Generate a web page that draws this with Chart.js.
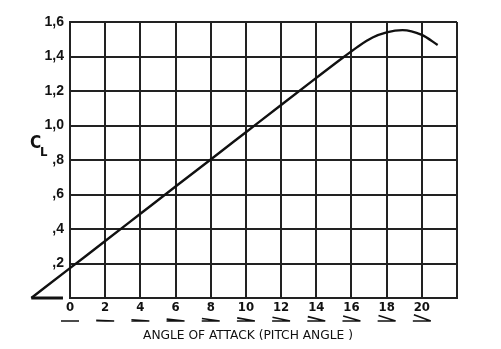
<!DOCTYPE html>
<html><head><meta charset="utf-8">
<script src="https://cdn.jsdelivr.net/npm/chart.js@4"></script>
<style>html,body{margin:0;padding:0;background:#fff}#wrap{width:501px;height:349px}</style>
</head><body><div id="wrap"><canvas id="c"></canvas></div>
<script>
// Angle of attack (degrees) and lift coefficient
const angles = [-2.2, 0, 2, 4, 6, 8, 10, 12, 14, 15.6, 16.4, 17.2, 18, 18.9, 20, 20.9];
const liftCoeff = [0, 0.173, 0.33, 0.488, 0.646, 0.803, 0.961, 1.119, 1.276, 1.40, 1.46, 1.51, 1.54, 1.553, 1.525, 1.467];
// zero-lift baseline segment
const baseAngles = [-2.2, -0.4];
const baseLift = [0, 0];
const xTicks = [0, 2, 4, 6, 8, 10, 12, 14, 16, 18, 20];
const yTickLabels = {'0.2': ',2', '0.4': ',4', '0.6': ',6', '0.8': ',8', '1': '1,0', '1.2': '1,2', '1.4': '1,4', '1.6': '1,6'};
const xTitle = 'ANGLE OF ATTACK (PITCH ANGLE )';

const curve = angles.map((a, i) => ({x: a, y: liftCoeff[i]}));
const base = baseAngles.map((a, i) => ({x: a, y: baseLift[i]}));

const extras = {
  id: 'extras',
  afterDraw(chart) {
    const ctx = chart.ctx, xs = chart.scales.x;
    ctx.save();
    ctx.strokeStyle = '#111';
    ctx.lineWidth = 1.6;
    xTicks.forEach(v => {
      const cx = xs.getPixelForValue(v), y0 = 321, half = 9;
      const a = v * Math.PI / 180;
      ctx.beginPath();
      ctx.moveTo(cx - half, y0); ctx.lineTo(cx + half, y0);
      ctx.moveTo(cx + half, y0);
      ctx.lineTo(cx + half - 2 * half * Math.cos(a), y0 - 2 * half * Math.sin(a));
      ctx.stroke();
    });
    ctx.fillStyle = '#111';
    ctx.textBaseline = 'middle';
    ctx.textAlign = 'center';
    ctx.font = '12px "DejaVu Sans Condensed", "Liberation Sans", sans-serif';
    const w = ctx.measureText(xTitle).width;
    ctx.save();
    ctx.translate(248, 335.5);
    ctx.scale(210 / w, 1);
    ctx.fillText(xTitle, 0, 0);
    ctx.restore();
    ctx.textAlign = 'left';
    ctx.textBaseline = 'alphabetic';
    ctx.font = 'bold 17px "DejaVu Sans Condensed", sans-serif';
    ctx.fillText('C', 30, 148);
    ctx.font = 'bold 13px "DejaVu Sans Condensed", sans-serif';
    ctx.fillText('L', 40, 156);
    ctx.restore();
  }
};

new Chart(document.getElementById('c'), {
  type: 'line',
  data: {
    datasets: [
      {data: curve, borderColor: '#111', borderWidth: 2.4, pointRadius: 0, tension: 0.4, cubicInterpolationMode: 'monotone', clip: false, fill: false},
      {data: base, borderColor: '#111', borderWidth: 3, pointRadius: 0, clip: false, fill: false}
    ]
  },
  options: {
    responsive: true, maintainAspectRatio: false, animation: false,
    layout: {padding: {top: 22, right: 44, left: 0, bottom: 0}},
    plugins: {legend: {display: false}, tooltip: {enabled: false}},
    scales: {
      x: {
        type: 'linear', min: 0, max: 22,
        afterFit: s => { s.height = 51; },
        afterBuildTicks: s => { s.ticks = [...xTicks, 22].map(v => ({value: v})); },
        grid: {color: '#222', lineWidth: 2, drawTicks: false},
        border: {color: '#222', width: 2},
        ticks: {
          padding: 2, color: '#111',
          font: {family: '"DejaVu Sans Condensed", "Liberation Sans", sans-serif', size: 13, weight: 'bold'},
          callback: v => (v === 22 ? '' : String(v)), maxRotation: 0, autoSkip: false
        }
      },
      y: {
        type: 'linear', min: 0, max: 1.6,
        afterFit: s => { s.width = 70; },
        grid: {color: '#222', lineWidth: 2, drawTicks: false},
        border: {color: '#222', width: 2},
        ticks: {
          stepSize: 0.2, padding: 6, color: '#111',
          font: {family: '"Liberation Sans", Arial, sans-serif', size: 14, weight: 'bold'},
          callback: v => yTickLabels[String(Math.round(v * 10) / 10)] || ''
        }
      }
    }
  },
  plugins: [extras]
});
</script></body></html>
